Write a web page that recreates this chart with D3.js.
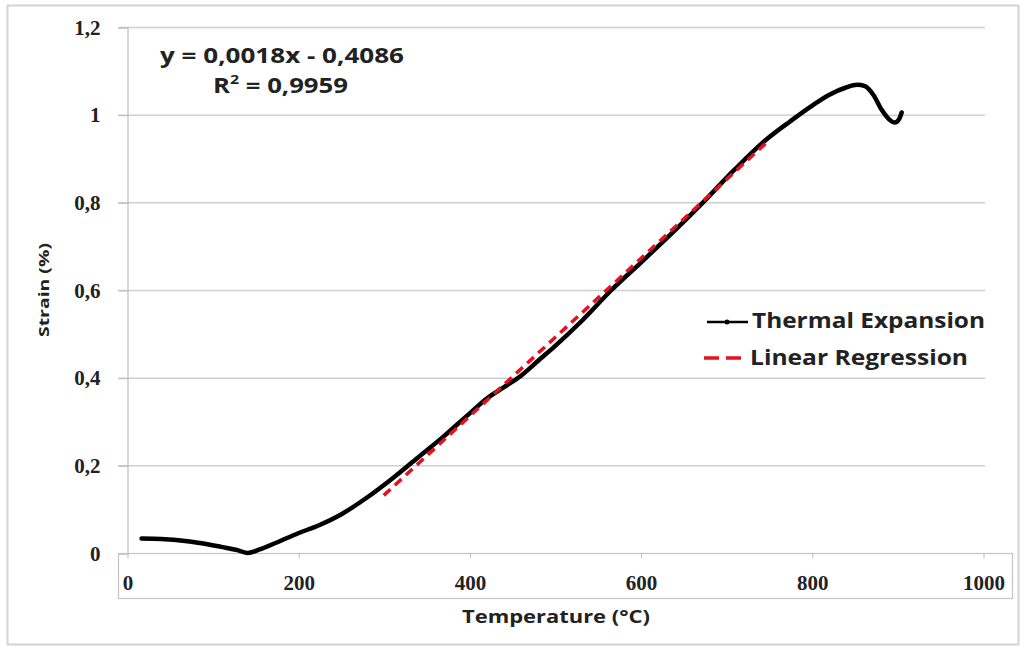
<!DOCTYPE html>
<html>
<head>
<meta charset="utf-8">
<script src="https://cdn.jsdelivr.net/npm/d3@7"></script>
<style>
  html, body { margin: 0; padding: 0; background: #fff; }
  svg { display: block; }
</style>
</head>
<body>
<svg id="chart" width="1026" height="647"></svg>
<script>
// ---- data ----
const temperature = [17, 40, 60, 85, 110, 130, 141, 155, 175, 200, 225, 250, 280, 310, 340, 370, 400, 420, 440, 460, 480, 500, 530, 566, 600, 640, 673, 710, 748, 775, 800, 820, 840, 853, 862, 872, 882, 890, 897, 902, 905];
const strain      = [0.033, 0.032, 0.029, 0.023, 0.014, 0.006, 0.0, 0.008, 0.024, 0.045, 0.064, 0.088, 0.126, 0.17, 0.218, 0.266, 0.318, 0.352, 0.378, 0.404, 0.438, 0.472, 0.527, 0.6, 0.662, 0.736, 0.8, 0.875, 0.945, 0.985, 1.02, 1.045, 1.062, 1.068, 1.065, 1.045, 1.01, 0.99, 0.982, 0.99, 1.005];
const regressionSlope = 0.0018;
const regressionIntercept = -0.4086;
const regressionRange = [300, 750];
const xTicks = [0, 200, 400, 600, 800, 1000];
const yTicks = [0, 0.2, 0.4, 0.6, 0.8, 1, 1.2];
const seriesNames = ["Thermal Expansion", "Linear Regression"];
const equationText = "y = 0,0018x - 0,4086";
const r2Value = "0,9959";
const xTitle = "Temperature (°C)";
const yTitle = "Strain (%)";

// ---- layout ----
const svg = d3.select("#chart");
const x = d3.scaleLinear().domain([0, 1000]).range([127, 983]);
const y = d3.scaleLinear().domain([0, 1.2]).range([553, 27]);
const fmt = v => String(v).replace(".", ",");
const gridColor = "#cfcfcf";

// outer frame
svg.append("rect").attr("x", 7.5).attr("y", 5.5).attr("width", 1011).attr("height", 639)
  .attr("fill", "#fff").attr("stroke", "#d4d4d4").attr("stroke-width", 2);

// gridlines
svg.append("g").selectAll("line").data(yTicks.filter(d => d > 0)).join("line")
  .attr("x1", 118).attr("x2", 985)
  .attr("y1", d => y(d) + 0.5).attr("y2", d => y(d) + 0.5)
  .attr("stroke", gridColor).attr("stroke-width", 1.5);

// y axis
const yAxis = d3.axisLeft(y).tickValues(yTicks).tickSize(9).tickPadding(18).tickFormat(fmt);
const gy = svg.append("g").attr("transform", "translate(127.5,0.5)").call(yAxis);
gy.select(".domain").attr("stroke", "#bdbdbd").attr("stroke-width", 1.2);
gy.selectAll(".tick line").attr("stroke", "#bdbdbd");
gy.selectAll(".tick text")
  .attr("font-family", "'Liberation Serif', 'Times New Roman', serif")
  .attr("font-weight", "bold").attr("font-size", 21).attr("fill", "#222");

// x axis box (Excel-like)
svg.append("rect").attr("x", 118.5).attr("y", 553.5).attr("width", 894).attr("height", 45)
  .attr("fill", "none").attr("stroke", "#c4c4c4").attr("stroke-width", 1.2);
const xAxis = d3.axisBottom(x).tickValues(xTicks).tickSize(5).tickPadding(17).tickFormat(d => d);
const gx = svg.append("g").attr("transform", "translate(0.5,553.5)").call(xAxis);
gx.select(".domain").remove();
gx.selectAll(".tick line").attr("stroke", "#bdbdbd");
gx.selectAll(".tick text")
  .attr("font-family", "'Liberation Serif', 'Times New Roman', serif")
  .attr("font-weight", "bold").attr("font-size", 21).attr("fill", "#222");

// thermal expansion curve
const data = temperature.map((t, i) => ({ t, s: strain[i] }));
const line = d3.line().x(d => x(d.t)).y(d => y(d.s)).curve(d3.curveMonotoneX);
svg.append("path").datum(data).attr("d", line)
  .attr("fill", "none").attr("stroke", "#000").attr("stroke-width", 4.5)
  .attr("stroke-linejoin", "round").attr("stroke-linecap", "round");

// regression line
const reg = regressionRange.map(t => ({ t, s: regressionSlope * t + regressionIntercept }));
svg.append("path").datum(reg).attr("d", d3.line().x(d => x(d.t)).y(d => y(d.s)))
  .attr("fill", "none").attr("stroke", "#e8101e").attr("stroke-width", 3.5)
  .attr("stroke-dasharray", "9,6");

// equation
const sans = "'Open Sans', Lato, sans-serif";
svg.append("text").attr("x", 160).attr("y", 63).text(equationText)
  .attr("font-family", sans).attr("font-weight", "bold").attr("font-size", 21).attr("fill", "#222")
  .attr("textLength", 244).attr("lengthAdjust", "spacingAndGlyphs");
const r2 = svg.append("text").attr("x", 213).attr("y", 93)
  .attr("font-family", sans).attr("font-weight", "bold").attr("font-size", 21).attr("fill", "#222")
  .attr("textLength", 135).attr("lengthAdjust", "spacingAndGlyphs");
r2.append("tspan").text("R");
r2.append("tspan").attr("font-size", 13).attr("dy", -9).text("2");
r2.append("tspan").attr("dy", 9).text(" = " + r2Value);

// legend
const lg = svg.append("g");
lg.append("line").attr("x1", 707).attr("x2", 748).attr("y1", 322).attr("y2", 322)
  .attr("stroke", "#000").attr("stroke-width", 2.5);
lg.append("circle").attr("cx", 727).attr("cy", 322).attr("r", 2.5).attr("fill", "#000");
lg.append("text").attr("x", 752).attr("y", 328).text(seriesNames[0])
  .attr("font-family", sans).attr("font-weight", "bold").attr("font-size", 21).attr("fill", "#222")
  .attr("textLength", 233).attr("lengthAdjust", "spacingAndGlyphs");
lg.append("line").attr("x1", 704).attr("x2", 744).attr("y1", 358).attr("y2", 358)
  .attr("stroke", "#e8101e").attr("stroke-width", 3.5).attr("stroke-dasharray", "15,7");
lg.append("text").attr("x", 750).attr("y", 365).text(seriesNames[1])
  .attr("font-family", sans).attr("font-weight", "bold").attr("font-size", 21).attr("fill", "#222")
  .attr("textLength", 218).attr("lengthAdjust", "spacingAndGlyphs");

// axis titles
svg.append("text").attr("x", 556).attr("y", 623).attr("text-anchor", "middle").text(xTitle)
  .attr("font-family", sans).attr("font-weight", "bold").attr("font-size", 17).attr("fill", "#222")
  .attr("textLength", 188).attr("lengthAdjust", "spacingAndGlyphs");
svg.append("text").attr("transform", "translate(49,290) rotate(-90)").attr("text-anchor", "middle").text(yTitle)
  .attr("font-family", sans).attr("font-weight", "bold").attr("font-size", 15).attr("fill", "#222")
  .attr("textLength", 94).attr("lengthAdjust", "spacingAndGlyphs");
</script>
</body>
</html>
